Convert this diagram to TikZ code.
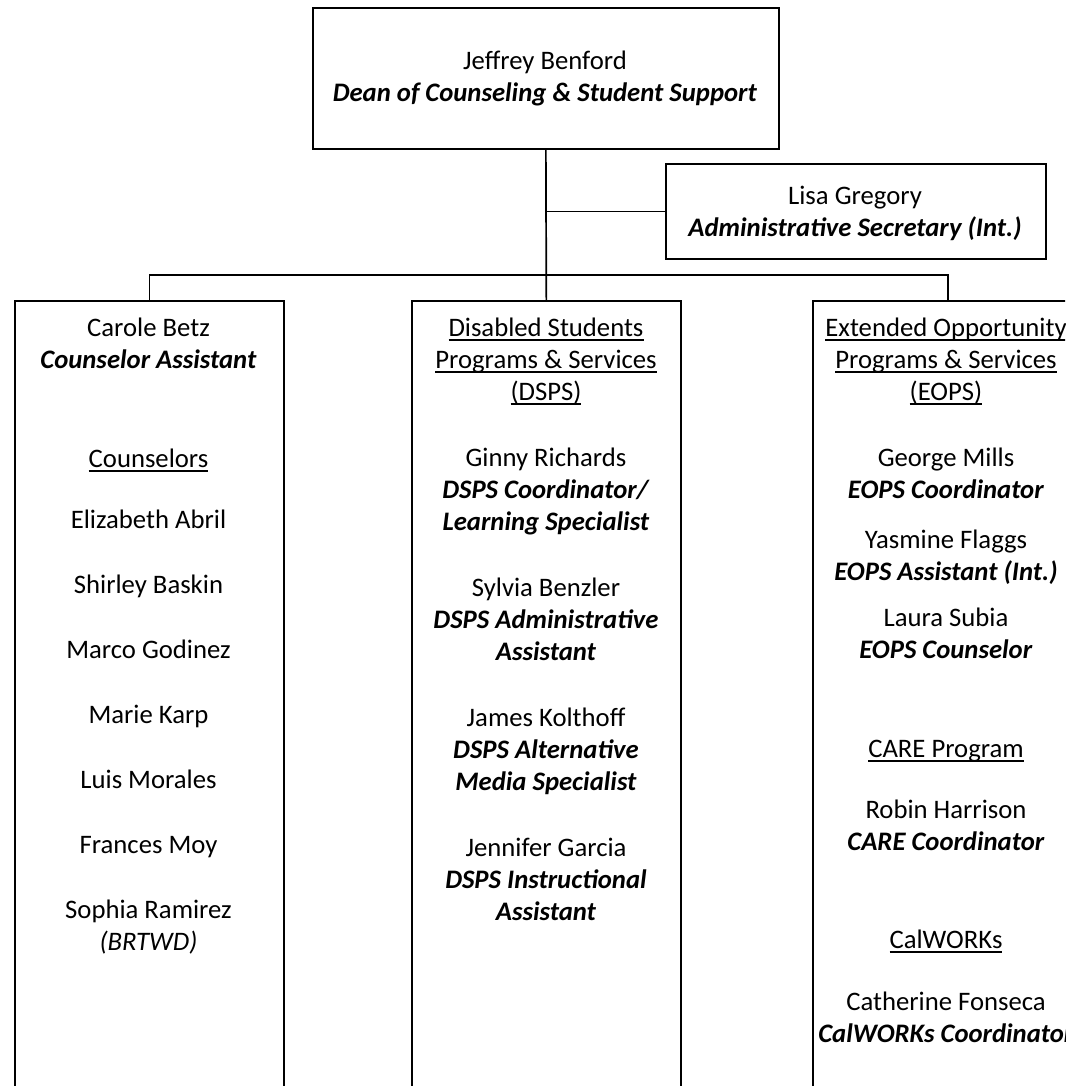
\documentclass[tikz,border=0pt]{standalone}
\usepackage{fontspec}
\setmainfont{Carlito}
\usepackage{tikz}
\usetikzlibrary{positioning, calc}

\newcommand{\titl}[1]{\textbf{\textit{#1}}}
\newcommand{\undl}[1]{\setbox0\hbox{#1}\rlap{\rule[-5pt]{\wd0}{1.8pt}}\box0}

\tikzset{
  unit/.style={draw, line width=1.7pt, rectangle, inner sep=0pt, anchor=north west},
  link/.style={line width=1.7pt},
  % anchored at the baseline of the last line
  person/.style={align=center, anchor=base, inner sep=0pt,
    font=\fontsize{26.7}{32}\selectfont},
}

\begin{document}
\begin{tikzpicture}[x=1pt, y=-1pt]
  \path[use as bounding box, clip] (0,0) rectangle (1065,1086);

  % Dean box
  \node[unit, minimum width=466pt, minimum height=141pt] (dean) at (312,7) {};
  \node[person] (benford) at (545,102) {Jeffrey Benford\\\titl{Dean of Counseling \& Student Support}};

  % Secretary box
  \node[unit, minimum width=380pt, minimum height=95pt] (sec) at (665,163) {};
  \node[person] (gregory) at (855,236) {Lisa Gregory\\\titl{Administrative Secretary (Int.)}};

  % Column boxes (run off the page)
  \node[unit, minimum width=269pt, minimum height=900pt] (counsel) at (14,300) {};
  \node[unit, minimum width=269pt, minimum height=900pt] (dsps) at (411,300) {};
  \node[unit, minimum width=270pt, minimum height=900pt] (eops) at (812,300) {};

  % Connectors
  \draw[link] (dean.south) -- (dsps.north);
  \draw[link] (dean.south |- sec.west) -- (sec.west);
  \coordinate (bus) at (0,275);
  \draw[link] (counsel.north) -- (counsel.north |- bus) -| (eops.north);

  % Counseling column
  \node[person] (betz) at (148.5,368) {Carole Betz\\\titl{Counselor Assistant}};
  \node[person] (counselors) at (148.5,467) {\undl{Counselors}};
  \node[person] (abril) at (148.5,528) {Elizabeth Abril};
  \node[person] (baskin) at (148.5,593) {Shirley Baskin};
  \node[person] (godinez) at (148.5,658) {Marco Godinez};
  \node[person] (karp) at (148.5,723) {Marie Karp};
  \node[person] (morales) at (148.5,788) {Luis Morales};
  \node[person] (moy) at (148.5,853) {Frances Moy};
  \node[person] (ramirez) at (148.5,950) {Sophia Ramirez\\\textit{(BRTWD)}};

  % DSPS column
  \node[person] (dspshead) at (546,400) {\undl{Disabled Students}\\\undl{Programs \& Services}\\\undl{(DSPS)}};
  \node[person] (richards) at (546,530) {Ginny Richards\\\titl{DSPS Coordinator/}\\\titl{Learning Specialist}};
  \node[person] (benzler) at (546,660) {Sylvia Benzler\\\titl{DSPS Administrative}\\\titl{Assistant}};
  \node[person] (kolthoff) at (546,790) {James Kolthoff\\\titl{DSPS Alternative}\\\titl{Media Specialist}};
  \node[person] (garcia) at (546,920) {Jennifer Garcia\\\titl{DSPS Instructional}\\\titl{Assistant}};

  % EOPS column
  \node[person] (eopshead) at (946,400) {\undl{Extended Opportunity}\\\undl{Programs \& Services}\\\undl{(EOPS)}};
  \node[person] (mills) at (946,498) {George Mills\\\titl{EOPS Coordinator}};
  \node[person] (flaggs) at (946,580) {Yasmine Flaggs\\\titl{EOPS Assistant (Int.)}};
  \node[person] (subia) at (946,658) {Laura Subia\\\titl{EOPS Counselor}};
  \node[person] (carehead) at (946,757) {\undl{CARE Program}};
  \node[person] (harrison) at (946,850) {Robin Harrison\\\titl{CARE Coordinator}};
  \node[person] (calworks) at (946,948) {\undl{CalWORKs}};
  \node[person] (fonseca) at (946,1042) {Catherine Fonseca\\\titl{CalWORKs Coordinator}};
\end{tikzpicture}
\end{document}
